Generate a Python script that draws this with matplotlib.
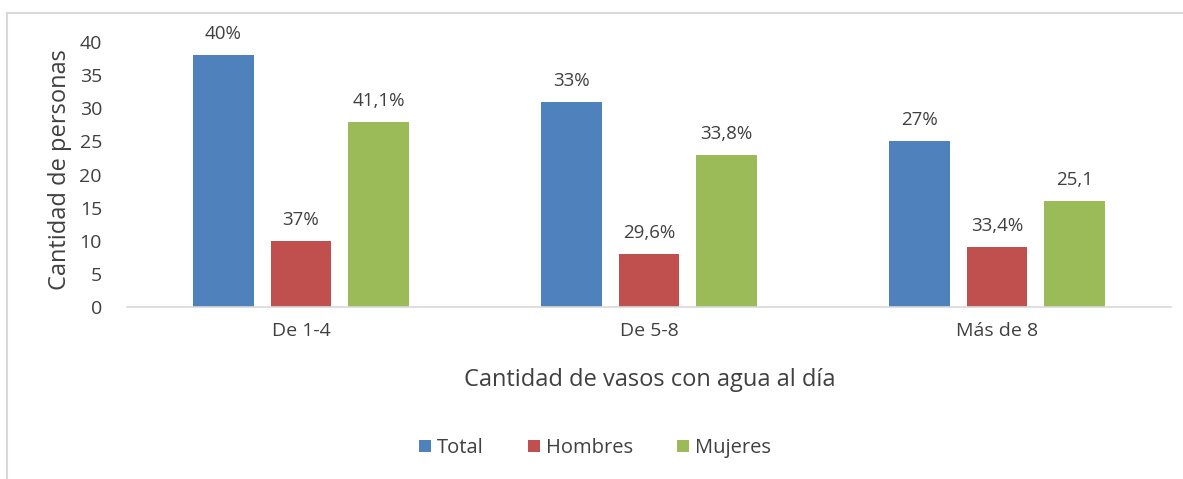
import matplotlib.pyplot as plt
import numpy as np
from matplotlib.lines import Line2D

plt.rcParams['font.family'] = ['Open Sans', 'DejaVu Sans']

categories = ['De 1-4', 'De 5-8', 'Más de 8']
series_names = ['Total', 'Hombres', 'Mujeres']
total = [38, 31, 25]
hombres = [10, 8, 9]
mujeres = [28, 23, 16]
total_labels = ['40%', '33%', '27%']
hombres_labels = ['37%', '29,6%', '33,4%']
mujeres_labels = ['41,1%', '33,8%', '25,1']

colors = ['#4f81bd', '#c0504d', '#9bbb59']
txt = '#404040'

fig = plt.figure(figsize=(11.83, 4.79), dpi=100)
ax = fig.add_axes([127 / 1183, 1 - 307 / 479, 1044 / 1183, 265 / 479])

x = np.arange(len(categories))
slot = 0.2227
width = 0.175
data = [total, hombres, mujeres]
labels = [total_labels, hombres_labels, mujeres_labels]
for i, (vals, labs) in enumerate(zip(data, labels)):
    pos = x + (i - 1) * slot
    bars = ax.bar(pos, vals, width, color=colors[i], label=series_names[i], zorder=2)
    for b, lab in zip(bars, labs):
        ax.text(b.get_x() + b.get_width() / 2, b.get_height() + 1.8, lab,
                ha='center', va='bottom', fontsize=13.5, color=txt)

ax.set_xlim(-0.5, 2.5)
ax.set_ylim(0, 40)
ax.set_yticks(range(0, 41, 5))
ax.set_xticks(x)
ax.set_xticklabels(categories)
ax.tick_params(axis='both', length=0, labelsize=14, labelcolor=txt)
ax.tick_params(axis='y', pad=18)
ax.tick_params(axis='x', pad=11)
for s in ['top', 'right', 'left']:
    ax.spines[s].set_visible(False)
ax.spines['bottom'].set_color('#d9d9d9')
ax.spines['bottom'].set_linewidth(1.2)

fig.text(60 / 1183, 1 - 170 / 479, 'Cantidad de personas', rotation=90,
         ha='center', va='center', fontsize=17, color=txt)
fig.text(650 / 1183, 1 - 380 / 479, 'Cantidad de vasos con agua al día',
         ha='center', va='center', fontsize=17, color=txt)

handles, labs = ax.get_legend_handles_labels()
leg = fig.legend(handles, labs, loc='center', bbox_to_anchor=(595 / 1183, 1 - 448 / 479),
                 ncol=3, frameon=False, fontsize=14.5, handlelength=0.6, handleheight=0.6,
                 handletextpad=0.3, columnspacing=2.2)
for t in leg.get_texts():
    t.set_color(txt)

# chart frame
fig.add_artist(Line2D([7 / 1183, 1], [1 - 13 / 479, 1 - 13 / 479], color='#d9d9d9', lw=1.5,
                      transform=fig.transFigure))
fig.add_artist(Line2D([7 / 1183, 7 / 1183], [0, 1 - 13 / 479], color='#d9d9d9', lw=1.5,
                      transform=fig.transFigure))

fig.savefig('out.png', dpi=100)
